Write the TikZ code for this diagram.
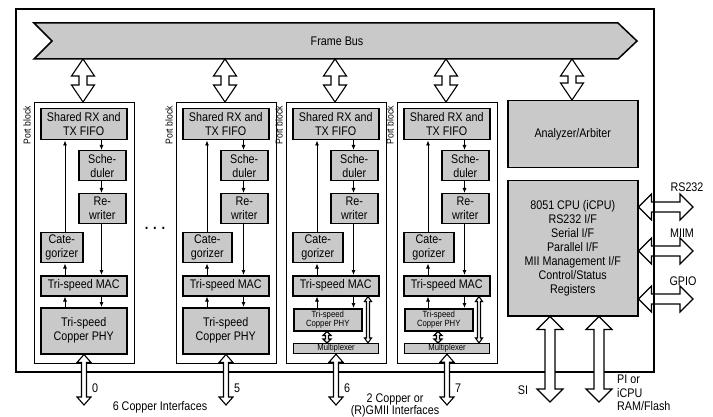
\documentclass[tikz,border=0pt]{standalone}
\usepackage{fontspec}
\setmainfont{Liberation Sans}[FakeStretch=0.86]
\usepackage{tikz}
\usetikzlibrary{arrows.meta,calc}
\definecolor{BoxGray}{RGB}{201,201,201}
\tikzset{
  >={Latex[length=5pt,width=4pt]},
  unit/.style={draw,fill=BoxGray,line width=1.5pt,inner sep=0pt,align=center,anchor=north west},
  portblk/.style={draw,line width=1.3pt,minimum width=100pt,minimum height=261pt,anchor=north west,inner sep=0pt},
  fat/.style={draw,fill=white,line width=1.1pt,line join=miter},
  link/.style={->,line width=0.8pt},
  small/.style={font=\fontsize{9}{8.5}\selectfont},
}
% двойная стрелка вниз: стиль, верх, низ, ствол/2, головка/2, длина головки
\newcommand{\vfat}[6]{%
  \draw[#1] let \p1=#2, \p2=#3 in
    (\x1,\y1) -- ({\x1+#5pt},{\y1-#6pt}) -- ({\x1+#4pt},{\y1-#6pt}) -- ({\x1+#4pt},{\y2+#6pt})
    -- ({\x1+#5pt},{\y2+#6pt}) -- (\x1,\y2) -- ({\x1-#5pt},{\y2+#6pt}) -- ({\x1-#4pt},{\y2+#6pt})
    -- ({\x1-#4pt},{\y1-#6pt}) -- ({\x1-#5pt},{\y1-#6pt}) -- cycle;}
% двойная стрелка вправо: стиль, лево, право, ствол/2, головка/2, длина головки
\newcommand{\hfat}[6]{%
  \draw[#1] let \p1=#2, \p2=#3 in
    (\x1,\y1) -- ({\x1+#6pt},{\y1+#5pt}) -- ({\x1+#6pt},{\y1+#4pt}) -- ({\x2-#6pt},{\y1+#4pt})
    -- ({\x2-#6pt},{\y1+#5pt}) -- (\x2,\y1) -- ({\x2-#6pt},{\y1-#5pt}) -- ({\x2-#6pt},{\y1-#4pt})
    -- ({\x1+#6pt},{\y1-#4pt}) -- ({\x1+#6pt},{\y1-#5pt}) -- cycle;}
\begin{document}
\begin{tikzpicture}[x=1pt,y=-1pt,font=\fontsize{12.5}{14}\selectfont]
  \useasboundingbox (0,0) rectangle (713,417);
  % Анализатор и CPU
  \node[unit,minimum width=130pt,minimum height=67pt] (arb) at (507,100) {Analyzer/Arbiter};
  \node[unit,minimum width=130pt,minimum height=135pt] (cpu) at (507,180)
    {8051 CPU (iCPU)\\RS232 I/F\\Serial I/F\\Parallel I/F\\MII Management I/F\\Control/Status\\Registers};
  % Внешние интерфейсы справа
  \foreach \ey/\lab/\lx/\ly in {207/RS232/687/187,251/MIIM/682/233,299/GPIO/683/281}{
    \coordinate (ext\ey) at (693,\ey);
    \coordinate (cpu\ey) at (cpu.east |- ext\ey);
    \hfat{fat}{(cpu\ey)}{(ext\ey)}{5}{13}{13}
    \node (lab\ey) at (\lx,\ly) {\lab};
  }
  % Рамка кристалла
  \draw[line width=2pt] (16,9) rectangle (654,372);
  % Шина кадров
  \draw[fill=BoxGray,line width=1.5pt] (34,23) -- (618,23) -- (637,41) -- (618,59) -- (34,59) -- (52,41) -- cycle;
  \node (bus) at (337,41) {Frame Bus};
  \coordinate (busa) at (572,59);
  \vfat{fat}{(busa)}{(arb.north)}{4}{11.5}{17}
  % Порты
  \foreach \i/\L/\cw/\kind/\port in {0/34/42/0/0,1/176/49/0/5,2/286/50/1/6,3/397/50/1/7}{
    \node[portblk] (blk\i) at (\L,102) {};
    \node[rotate=90,anchor=east,inner sep=0pt,font=\fontsize{10}{10}\selectfont] (pb\i) at (\L-7,106) {Port block};
    \coordinate (c\i) at (\L+31,0);
    \coordinate (r\i) at (\L+67.5,0);
    \coordinate (bus\i) at (\L+49,59);
    \coordinate (io\i) at (\L+50,405);
    \coordinate (top\i) at (blk\i.north -| bus\i);
    \vfat{fat}{(bus\i)}{(top\i)}{4}{11.5}{17}
    \node[unit,minimum width=86pt,minimum height=31pt] (fifo\i) at (\L+6,108) {Shared RX and\\TX FIFO};
    \node[unit,minimum width=47pt,minimum height=30pt] (sched\i) at (\L+44,150) {Sche-\\duler};
    \node[unit,minimum width=47pt,minimum height=30pt] (rew\i) at (\L+44,193) {Re-\\writer};
    \node[unit,minimum width=\cw*1pt,minimum height=30pt] (cat\i) at (\L+6,232) {Cate-\\gorizer};
    \node[unit,minimum width=86pt,minimum height=20pt] (mac\i) at (\L+6,275) {Tri-speed MAC};
    \ifnum\kind=0
      \node[unit,minimum width=86pt,minimum height=46pt] (phy\i) at (\L+6,307) {Tri-speed\\Copper PHY};
      \coordinate (out\i) at (phy\i.south -| io\i);
    \else
      \node[unit,small,minimum width=68pt,minimum height=22pt] (phy\i) at (\L+7,308) {Tri-speed\\Copper PHY};
      \node[unit,small,line width=1.2pt,minimum width=85pt,minimum height=10pt] (mux\i) at (\L+7,343) {Multiplexer};
      \coordinate (pm\i) at (phy\i.south -| \L+41,0);
      \coordinate (mp\i) at (mux\i.north -| \L+41,0);
      \coordinate (mb\i) at (mac\i.south -| \L+82,0);
      \coordinate (xb\i) at (mux\i.north -| \L+82,0);
      \vfat{fat}{(pm\i)}{(mp\i)}{1.5}{4}{4}
      \vfat{fat}{(mb\i)}{(xb\i)}{1.5}{3.5}{5}
      \coordinate (out\i) at (mux\i.south -| io\i);
    \fi
    \vfat{fat}{(out\i)}{(io\i)}{2.5}{7}{8}
    \node (num\i) at (\L+61,388) {\port};
    % связи внутри порта
    \draw[link] (fifo\i.south -| r\i) -- (sched\i.north -| r\i);
    \draw[link] (sched\i.south -| r\i) -- (rew\i.north -| r\i);
    \draw[link] (rew\i.south -| r\i) -- (mac\i.north -| r\i);
    \draw[link] (mac\i.north -| c\i) -- (cat\i.south -| c\i);
    \draw[link] (cat\i.north -| c\i) -- (fifo\i.south -| c\i);
    \draw[link] (phy\i.north -| c\i) -- (mac\i.south -| c\i);
    \draw[link] (mac\i.south -| r\i) -- (phy\i.north -| r\i);
  }
  \node[font=\fontsize{15}{15}\selectfont\bfseries] (dots) at (155,228) {. . .};
  \node (cu6) at (160,407) {6 Copper Interfaces};
  \node[align=center,font=\fontsize{12.5}{11}\selectfont] (cu2) at (395,405.5) {2 Copper or\\(R)GMII Interfaces};
  % Интерфейсы CPU снизу
  \coordinate (si) at (550,402);
  \coordinate (pi) at (599,402);
  \coordinate (cs) at (cpu.south -| si);
  \coordinate (cp) at (cpu.south -| pi);
  \vfat{fat}{(cs)}{(si)}{5}{13}{13}
  \vfat{fat}{(cp)}{(pi)}{5}{13}{13}
  \node (silab) at (523,390) {SI};
  \node[anchor=north west,inner sep=0pt,align=left,font=\fontsize{12.5}{13.5}\selectfont] (pilab) at (617,375) {PI or\\iCPU\\RAM/Flash};
\end{tikzpicture}
\end{document}
